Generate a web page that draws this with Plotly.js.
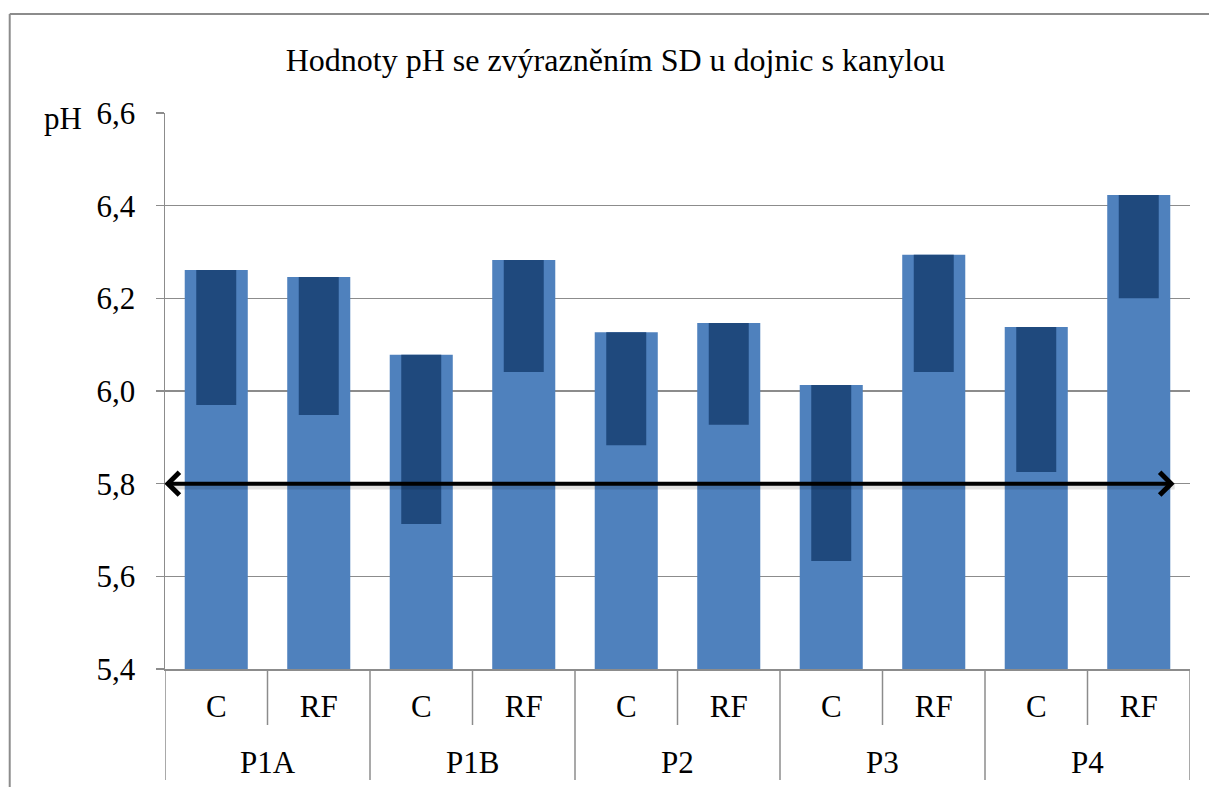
<!DOCTYPE html>
<html>
<head>
<meta charset="utf-8">
<script src="https://cdn.plot.ly/plotly-3.0.1.min.js"></script>
<style>
  html, body { margin: 0; padding: 0; background: #fff; }
  #chart { width: 1209px; height: 787px; }
</style>
</head>
<body>
<div id="chart"></div>
<script>
// ---- data ----
const groups = ["P1A", "P1B", "P2", "P3", "P4"];
const subs = ["C", "RF"];
const meanPH = [6.261, 6.246, 6.078, 6.283, 6.127, 6.147, 6.013, 6.294, 6.138, 6.423];
const sdPH   = [0.291, 0.298, 0.365, 0.242, 0.244, 0.220, 0.380, 0.253, 0.313, 0.223];
const limitPH = 5.8;
const yTicks = [5.4, 5.6, 5.8, 6.0, 6.2, 6.4, 6.6];

// ---- derived ----
const xIdx = [], tickText = [];
groups.forEach((g, gi) => subs.forEach((s, si) => { xIdx.push(gi * subs.length + si); tickText.push(s); }));
const lowerPH = meanPH.map((m, i) => m - sdPH[i]);

const FONT = "Liberation Serif, Times New Roman, serif";
const GRID = "#8c8c8c";
const FS = 31;

const traces = [
  { type: "bar", x: xIdx, y: meanPH, width: 0.615,
    marker: { color: "#4F81BD", line: { width: 0 } }, hoverinfo: "y" },
  { type: "bar", x: xIdx, y: sdPH, base: lowerPH, width: 0.39,
    marker: { color: "#1F497D", line: { width: 0 } }, hoverinfo: "y" }
];

const nCat = xIdx.length;
const shapes = [];
// inner cell dividers (first row) and group dividers (both rows)
for (let b = 0; b <= nCat; b++) {
  const isGroup = (b % subs.length) === 0;
  shapes.push({ type: "line", xref: "x", yref: "paper", x0: b - 0.5, x1: b - 0.5,
    y0: 0, y1: isGroup ? -0.1996 : -0.1007, line: { color: GRID, width: 1.5 }, layer: "above" });
}
// outer frame (left and top)
shapes.push({ type: "line", xref: "paper", yref: "paper", x0: -0.1515, x1: -0.1515, y0: 1.178, y1: -0.24,
  line: { color: GRID, width: 2 } });
shapes.push({ type: "line", xref: "paper", yref: "paper", x0: -0.1515, x1: 1.03, y0: 1.178, y1: 1.178,
  line: { color: GRID, width: 2 } });

const annotations = groups.map((g, gi) => ({
  xref: "x", yref: "paper", x: gi * subs.length + (subs.length - 1) / 2, y: -0.1673,
  text: g, showarrow: false, yanchor: "middle", font: { family: FONT, size: FS, color: "#000" }
}));
annotations.push({ xref: "paper", yref: "paper", x: -0.1, y: 0.991, text: "pH", showarrow: false,
  xanchor: "center", yanchor: "middle", font: { family: FONT, size: FS, color: "#000" } });
// soft shadow under the arrow
annotations.push({ xref: "x", yref: "y", axref: "x", ayref: "y",
  x: nCat - 0.65, y: limitPH - 0.006, ax: -0.45, ay: limitPH - 0.006, text: "",
  showarrow: true, arrowhead: 0, arrowwidth: 6, arrowcolor: "rgba(0,0,0,0.12)", standoff: 0 });
// double-headed arrow at the limit value
annotations.push({ xref: "x", yref: "y", axref: "x", ayref: "y",
  x: nCat - 0.65, y: limitPH, ax: -0.52, ay: limitPH, text: "",
  showarrow: true, arrowside: "end+start", arrowhead: 4, startarrowhead: 4,
  arrowsize: 1.1, startarrowsize: 1.1, arrowwidth: 4, arrowcolor: "#000", standoff: 0, startstandoff: 0 });

const layout = {
  width: 1209, height: 787,
  margin: { l: 165, r: 19, t: 113, b: 118 },
  paper_bgcolor: "#fff", plot_bgcolor: "#fff",
  separators: ", ",
  showlegend: false,
  barmode: "overlay",
  font: { family: FONT, size: FS, color: "#000" },
  title: { text: "Hodnoty pH se zvýrazněním SD u dojnic s kanylou", xref: "container", x: 0.509,
    yref: "container", y: 0.924, yanchor: "middle", font: { family: FONT, size: 32, color: "#000" } },
  xaxis: { range: [-0.5, nCat - 0.5], tickvals: xIdx, ticktext: tickText, ticks: "",
    showgrid: false, zeroline: false, showline: true, linecolor: GRID, linewidth: 1.5,
    ticklabelstandoff: 9, tickfont: { family: FONT, size: FS, color: "#000" }, fixedrange: true },
  yaxis: { range: [5.4, 6.6], tickvals: yTicks, tickformat: ".1f", ticks: "outside", ticklen: 8,
    tickcolor: GRID, tickwidth: 1.5, showgrid: true, gridcolor: GRID, gridwidth: 1.5, zeroline: false,
    showline: true, linecolor: GRID, linewidth: 1.5, ticklabelstandoff: 14,
    tickfont: { family: FONT, size: FS, color: "#000" }, fixedrange: true },
  shapes: shapes,
  annotations: annotations
};

Plotly.newPlot("chart", traces, layout, { displayModeBar: false, staticPlot: true });
</script>
</body>
</html>
